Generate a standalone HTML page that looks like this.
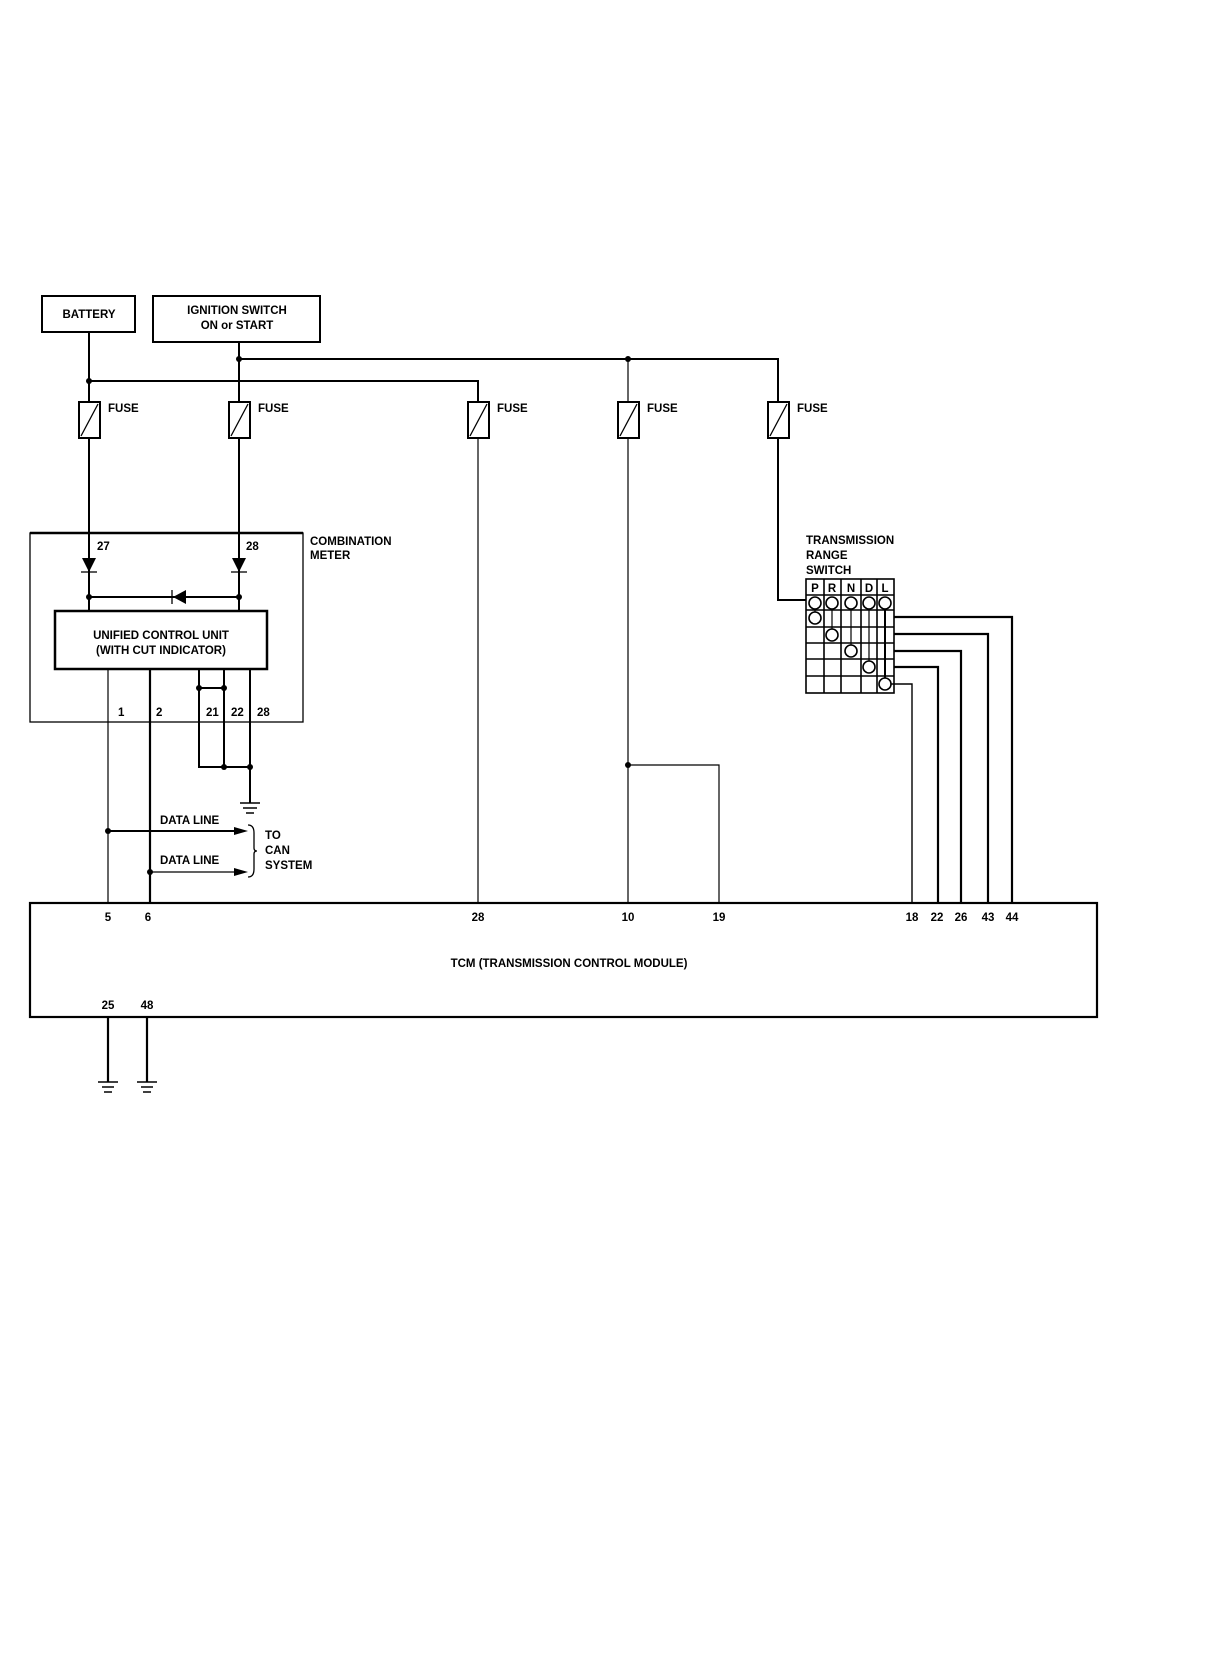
<!DOCTYPE html>
<html><head><meta charset="utf-8"><style>
html,body{margin:0;padding:0;background:#fff;}
svg text{font-family:"Liberation Sans",Arial,sans-serif;font-weight:bold;font-size:11.5px;fill:#000;}
</style></head><body>
<svg width="1216" height="1660" viewBox="0 0 1216 1660" xmlns="http://www.w3.org/2000/svg">
<g fill="none" stroke="#000" stroke-width="2">
<!-- boxes -->
<rect x="42" y="296" width="93" height="36"/>
<rect x="153" y="296" width="167" height="46"/>
<!-- buses -->
<polyline points="89,332 89,402"/>
<polyline points="89,381 478,381 478,402"/>
<polyline points="239,342 239,402"/>
<polyline points="239,359 778,359 778,402"/>
<line x1="628" y1="359" x2="628" y2="402" stroke-width="1.2"/>
<!-- fuses -->
<rect x="79" y="402" width="21" height="36"/><line x1="81" y1="436" x2="98" y2="404" stroke-width="1.3"/>
<rect x="229" y="402" width="21" height="36"/><line x1="231" y1="436" x2="248" y2="404" stroke-width="1.3"/>
<rect x="468" y="402" width="21" height="36"/><line x1="470" y1="436" x2="487" y2="404" stroke-width="1.3"/>
<rect x="618" y="402" width="21" height="36"/><line x1="620" y1="436" x2="637" y2="404" stroke-width="1.3"/>
<rect x="768" y="402" width="21" height="36"/><line x1="770" y1="436" x2="787" y2="404" stroke-width="1.3"/>
<!-- fuse outputs -->
<line x1="89" y1="438" x2="89" y2="611"/>
<line x1="239" y1="438" x2="239" y2="611"/>
<line x1="478" y1="438" x2="478" y2="903" stroke-width="1.2"/>
<line x1="628" y1="438" x2="628" y2="903" stroke-width="1.2"/>
<polyline points="628,765 719,765 719,903" stroke-width="1.2"/>
<polyline points="778,438 778,600 806,600"/>
<!-- combination meter -->
<rect x="30" y="533" width="273" height="189" stroke-width="1.3"/>
<line x1="30" y1="533" x2="303" y2="533" stroke-width="2.5"/>
<line x1="81" y1="572" x2="97" y2="572" stroke-width="1.3"/>
<line x1="231" y1="572" x2="247" y2="572" stroke-width="1.3"/>
<line x1="89" y1="597" x2="239" y2="597"/>
<line x1="172" y1="590" x2="172" y2="604" stroke-width="1.3"/>
<rect x="55" y="611" width="212" height="58" stroke-width="2.5"/>
<line x1="108" y1="669" x2="108" y2="903" stroke-width="1.2"/>
<line x1="150" y1="669" x2="150" y2="903" stroke-width="2.2"/>
<polyline points="199,669 199,767 250,767"/>
<line x1="224" y1="669" x2="224" y2="767"/>
<line x1="250" y1="669" x2="250" y2="803"/>
<line x1="199" y1="688" x2="224" y2="688"/>
<line x1="240" y1="803" x2="260" y2="803" stroke-width="1.5"/>
<line x1="243" y1="808" x2="257" y2="808" stroke-width="1.5"/>
<line x1="246" y1="813" x2="254" y2="813" stroke-width="1.5"/>
<!-- data lines -->
<line x1="108" y1="831" x2="238" y2="831"/>
<line x1="150" y1="872" x2="238" y2="872" stroke-width="1.3"/>
<path d="M248,825 q6,0 6,8 v15 q0,3 3,3 q-3,0 -3,3 v15 q0,8 -6,8" stroke-width="1.3"/>
<!-- TCM -->
<rect x="30" y="903" width="1067" height="114" stroke-width="2.2"/>
<line x1="108" y1="1017" x2="108" y2="1082" stroke-width="2.2"/>
<line x1="147" y1="1017" x2="147" y2="1082" stroke-width="2.2"/>
<line x1="98" y1="1082" x2="118" y2="1082" stroke-width="1.5"/>
<line x1="102" y1="1087" x2="114" y2="1087" stroke-width="1.5"/>
<line x1="104" y1="1092" x2="112" y2="1092" stroke-width="1.5"/>
<line x1="137" y1="1082" x2="157" y2="1082" stroke-width="1.5"/>
<line x1="141" y1="1087" x2="153" y2="1087" stroke-width="1.5"/>
<line x1="143" y1="1092" x2="151" y2="1092" stroke-width="1.5"/>
<!-- range switch grid -->
<g stroke-width="1.6">
<rect x="806" y="579" width="88" height="114"/>
<line x1="824" y1="579" x2="824" y2="693"/>
<line x1="841" y1="579" x2="841" y2="693"/>
<line x1="861" y1="579" x2="861" y2="693"/>
<line x1="877" y1="579" x2="877" y2="693"/>
<line x1="806" y1="595" x2="894" y2="595"/>
<line x1="806" y1="610" x2="894" y2="610"/>
<line x1="806" y1="627" x2="894" y2="627"/>
<line x1="806" y1="643" x2="894" y2="643"/>
<line x1="806" y1="659" x2="894" y2="659"/>
<line x1="806" y1="676" x2="894" y2="676"/>
</g>
<g stroke-width="1.2">
<line x1="815" y1="603" x2="815" y2="617"/>
<line x1="832" y1="603" x2="832" y2="634"/>
<line x1="851" y1="603" x2="851" y2="651"/>
<line x1="869" y1="603" x2="869" y2="667"/>
</g>
<line x1="885" y1="603" x2="885" y2="684" stroke-width="2"/>
<g stroke-width="1.6" fill="#fff">
<circle cx="815" cy="603" r="6"/><circle cx="832" cy="603" r="6"/><circle cx="851" cy="603" r="6"/><circle cx="869" cy="603" r="6"/><circle cx="885" cy="603" r="6"/>
<circle cx="815" cy="618" r="6"/><circle cx="832" cy="635" r="6"/><circle cx="851" cy="651" r="6"/><circle cx="869" cy="667" r="6"/><circle cx="885" cy="684" r="6"/>
</g>
<polyline points="894,617 1012,617 1012,903" stroke-width="2.2"/>
<polyline points="894,634 988,634 988,903" stroke-width="2.2"/>
<polyline points="894,651 961,651 961,903" stroke-width="2.2"/>
<polyline points="894,667 938,667 938,903" stroke-width="2.2"/>
<polyline points="891,684 912,684 912,903" stroke-width="1.4"/>
</g>
<g fill="#000">
<polygon points="82,558 96,558 89,572"/>
<polygon points="232,558 246,558 239,572"/>
<polygon points="173,597 186,590 186,604"/>
<polygon points="234,827 248,831 234,835"/>
<polygon points="234,868 248,872 234,876"/>
<circle cx="89" cy="381" r="3"/><circle cx="239" cy="359" r="3"/><circle cx="628" cy="359" r="3"/>
<circle cx="89" cy="597" r="3"/><circle cx="239" cy="597" r="3"/>
<circle cx="199" cy="688" r="3"/><circle cx="224" cy="688" r="3"/>
<circle cx="224" cy="767" r="3"/><circle cx="250" cy="767" r="3"/>
<circle cx="108" cy="831" r="3"/><circle cx="150" cy="872" r="3"/>
<circle cx="628" cy="765" r="3"/>
</g>
<text x="89" y="318" text-anchor="middle">BATTERY</text>
<text x="237" y="314" text-anchor="middle">IGNITION SWITCH</text>
<text x="237" y="329" text-anchor="middle">ON or START</text>
<text x="108" y="412">FUSE</text>
<text x="258" y="412">FUSE</text>
<text x="497" y="412">FUSE</text>
<text x="647" y="412">FUSE</text>
<text x="797" y="412">FUSE</text>
<text x="97" y="550" font-size="10">27</text>
<text x="246" y="550" font-size="10">28</text>
<text x="310" y="545">COMBINATION</text>
<text x="310" y="559">METER</text>
<text x="161" y="639" text-anchor="middle">UNIFIED CONTROL UNIT</text>
<text x="161" y="654" text-anchor="middle">(WITH CUT INDICATOR)</text>
<text x="118" y="716" font-size="10">1</text>
<text x="156" y="716" font-size="10">2</text>
<text x="206" y="716" font-size="10">21</text>
<text x="231" y="716" font-size="10">22</text>
<text x="257" y="716" font-size="10">28</text>
<text x="160" y="824">DATA LINE</text>
<text x="160" y="864">DATA LINE</text>
<text x="265" y="839">TO</text>
<text x="265" y="854">CAN</text>
<text x="265" y="869">SYSTEM</text>
<text x="806" y="544">TRANSMISSION</text>
<text x="806" y="559">RANGE</text>
<text x="806" y="574">SWITCH</text>
<text x="815" y="592" text-anchor="middle" font-size="11">P</text>
<text x="832" y="592" text-anchor="middle" font-size="11">R</text>
<text x="851" y="592" text-anchor="middle" font-size="11">N</text>
<text x="869" y="592" text-anchor="middle" font-size="11">D</text>
<text x="885" y="592" text-anchor="middle" font-size="11" font-weight="normal">L</text>
<g font-size="11">
<text x="108" y="921" text-anchor="middle">5</text>
<text x="148" y="921" text-anchor="middle">6</text>
<text x="478" y="921" text-anchor="middle">28</text>
<text x="628" y="921" text-anchor="middle">10</text>
<text x="719" y="921" text-anchor="middle">19</text>
<text x="912" y="921" text-anchor="middle" font-weight="normal">18</text>
<text x="937" y="921" text-anchor="middle" font-weight="normal">22</text>
<text x="961" y="921" text-anchor="middle" font-weight="normal">26</text>
<text x="988" y="921" text-anchor="middle" font-weight="normal">43</text>
<text x="1012" y="921" text-anchor="middle" font-weight="normal">44</text>
<text x="108" y="1009" text-anchor="middle">25</text>
<text x="147" y="1009" text-anchor="middle">48</text>
</g>
<text x="569" y="967" text-anchor="middle">TCM (TRANSMISSION CONTROL MODULE)</text>
</svg>
</body></html>
